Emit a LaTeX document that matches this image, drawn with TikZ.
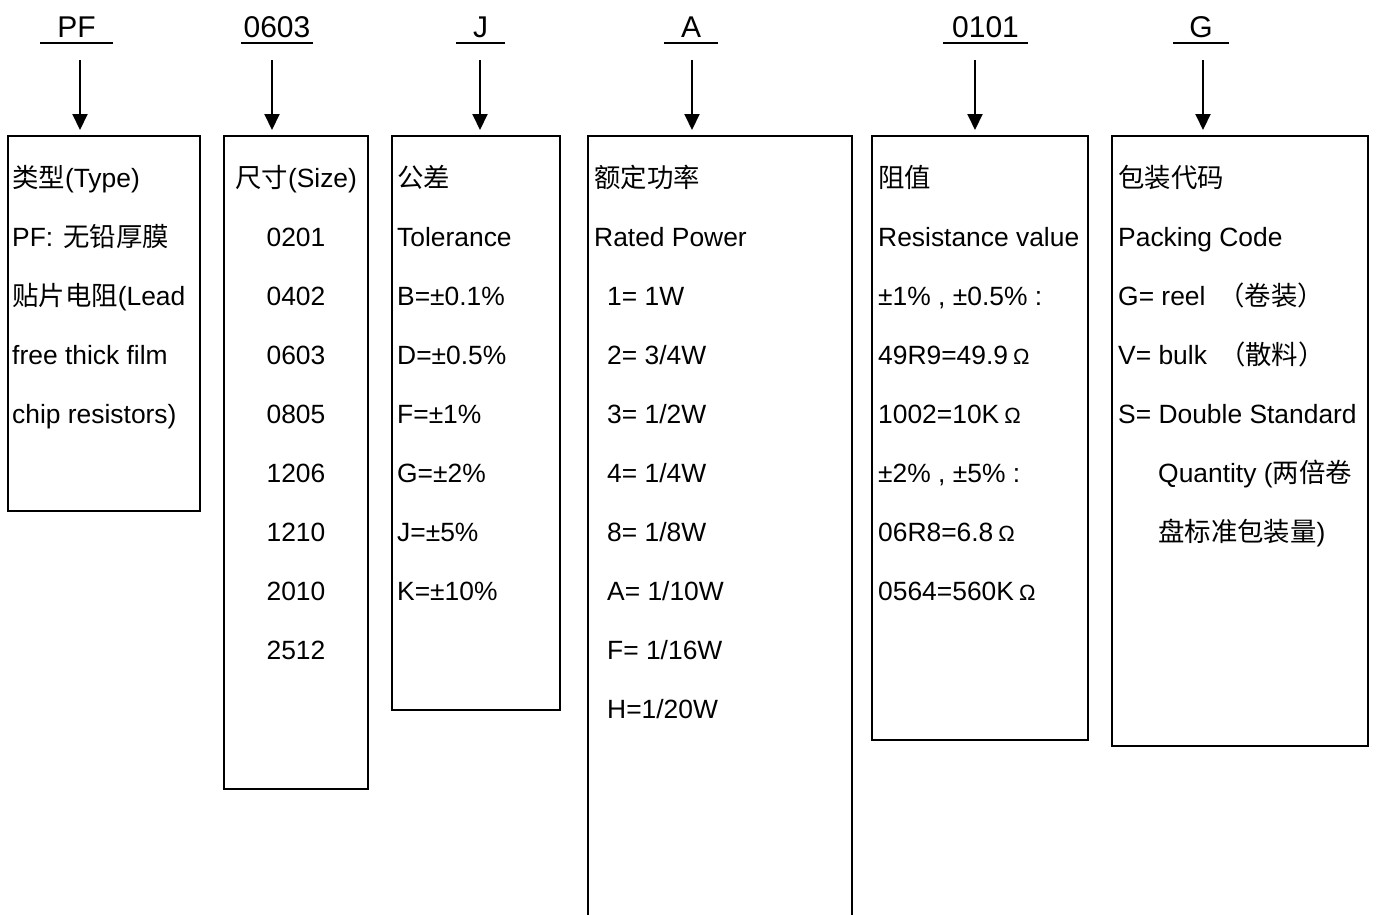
\documentclass[tikz,border=0pt]{standalone}
\usepackage{fontspec}
\setmainfont{Liberation Sans}
\newfontfamily\cjk{Noto Sans CJK SC}
\usetikzlibrary{arrows.meta}
\newcommand\myohm{\hspace{5pt}{\fontsize{22}{22}\selectfont Ω}}
\begin{document}
\begin{tikzpicture}[x=1pt,y=-1pt,
  txt/.style={anchor=base west, inner sep=0pt, font=\fontsize{26.4}{26.4}\selectfont},
  ctxt/.style={anchor=base, inner sep=0pt, font=\fontsize{26.4}{26.4}\selectfont},
  ttl/.style={anchor=base, inner sep=0pt, font=\fontsize{30}{30}\selectfont},
  box/.style={draw, line width=1.6pt, anchor=north west, inner sep=0pt, outer sep=0pt},
  openbox/.style={anchor=north west, inner sep=0pt, outer sep=0pt},
  side/.style={line width=1.6pt},
  arr/.style={line width=2pt, -{Triangle[length=16pt,width=15pt]}, shorten >=6pt},
  uline/.style={line width=2pt}]
\useasboundingbox (0,0) rectangle (1376,914);

% titles
\node[ttl] (tPF) at (76.5,37) {PF};
\node[ttl] (tSZ) at (277,37) {0603};
\node[ttl] (tJ) at (480.5,37) {J};
\node[ttl] (tA) at (691,37) {A};
\node[ttl] (tR) at (985.5,37) {0101};
\node[ttl] (tG) at (1201,37) {G};
\draw[uline] ([xshift=-36.5pt,yshift=-6pt]tPF.base) -- ++(73,0);
\draw[uline] ([xshift=-36pt,yshift=-6pt]tSZ.base) -- ++(72,0);
\draw[uline] ([xshift=-24.5pt,yshift=-6pt]tJ.base) -- ++(49,0);
\draw[uline] ([xshift=-27pt,yshift=-6pt]tA.base) -- ++(54,0);
\draw[uline] ([xshift=-42.5pt,yshift=-6pt]tR.base) -- ++(85,0);
\draw[uline] ([xshift=-28pt,yshift=-6pt]tG.base) -- ++(56,0);

% boxes
\node[box, minimum width=192, minimum height=375] (bPF) at (8,136) {};
\node[box, minimum width=144, minimum height=653] (bSZ) at (224,136) {};
\node[box, minimum width=168, minimum height=574] (bJ) at (392,136) {};
\node[openbox, minimum width=264, minimum height=784] (bA) at (588,136) {};
\draw[side] (bA.south west) -- (bA.north west) -- (bA.north east) -- (bA.south east);
\node[box, minimum width=216, minimum height=604] (bR) at (872,136) {};
\node[box, minimum width=256, minimum height=610] (bG) at (1112,136) {};

% arrows
\coordinate (sPF) at (80,60);
\coordinate (sSZ) at (272,60);
\coordinate (sJ) at (480,60);
\coordinate (sA) at (692,60);
\coordinate (sR) at (975,60);
\coordinate (sG) at (1203,60);
\draw[arr] (sPF) -- (sPF |- bPF.north);
\draw[arr] (sSZ) -- (sSZ |- bSZ.north);
\draw[arr] (sJ) -- (sJ |- bJ.north);
\draw[arr] (sA) -- (sA |- bA.north);
\draw[arr] (sR) -- (sR |- bR.north);
\draw[arr] (sG) -- (sG |- bG.north);

% PF box
\node[txt] (pf0) at (12,187) {{\cjk 类型}(Type)};
\node[txt] (pf1) at (12,246) {PF:\hspace{10pt}{\cjk 无铅厚膜}};
\node[txt] (pf2) at (12,305) {{\cjk 贴片电阻}(Lead};
\node[txt] (pf3) at (12,364) {free thick film};
\node[txt] (pf4) at (12,423) {chip resistors)};

% size box
\node[txt] (sz0) at (235,187) {{\cjk 尺寸}(Size)};
\foreach \t [count=\i] in {0201,0402,0603,0805,1206,1210,2010,2512}
  \node[ctxt] (sz\i) at (296,187+59*\i) {\t};

% tolerance box
\node[txt] (j0) at (397,187) {{\cjk 公差}};
\node[txt] (j1) at (397,246) {Tolerance};
\foreach \t [count=\i from 2] in {B=±0.1\%,D=±0.5\%,F=±1\%,G=±2\%,J=±5\%,K=±10\%}
  \node[txt] (j\i) at (397,187+59*\i) {\t};

% power box
\node[txt] (a0) at (594,187) {{\cjk 额定功率}};
\node[txt] (a1) at (594,246) {Rated Power};
\foreach \t [count=\i from 2] in {1= 1W,2= 3/4W,3= 1/2W,4= 1/4W,8= 1/8W,A= 1/10W,F= 1/16W,H=1/20W}
  \node[txt] (a\i) at (607,187+59*\i) {\t};

% resistance box
\node[txt] (r0) at (878,187) {{\cjk 阻值}};
\node[txt] (r1) at (878,246) {Resistance value};
\node[txt] (r2) at (878,305) {±1\% , ±0.5\% :};
\node[txt] (r3) at (878,364) {49R9=49.9\myohm};
\node[txt] (r4) at (878,423) {1002=10K\myohm};
\node[txt] (r5) at (878,482) {±2\% , ±5\% :};
\node[txt] (r6) at (878,541) {06R8=6.8\myohm};
\node[txt] (r7) at (878,600) {0564=560K\myohm};

% packing box
\node[txt] (g0) at (1118,187) {{\cjk 包装代码}};
\node[txt] (g1) at (1118,246) {Packing Code};
\node[txt] (g2) at (1118,305) {G= reel\hspace{13pt}{\cjk （卷装）}};
\node[txt] (g3) at (1118,364) {V= bulk\hspace{12pt}{\cjk （散料）}};
\node[txt] (g4) at (1118,423) {S= Double Standard};
\node[txt] (g5) at (1158,482) {Quantity ({\cjk 两倍卷}};
\node[txt] (g6) at (1158,541) {{\cjk 盘标准包装量})};
\end{tikzpicture}
\end{document}
